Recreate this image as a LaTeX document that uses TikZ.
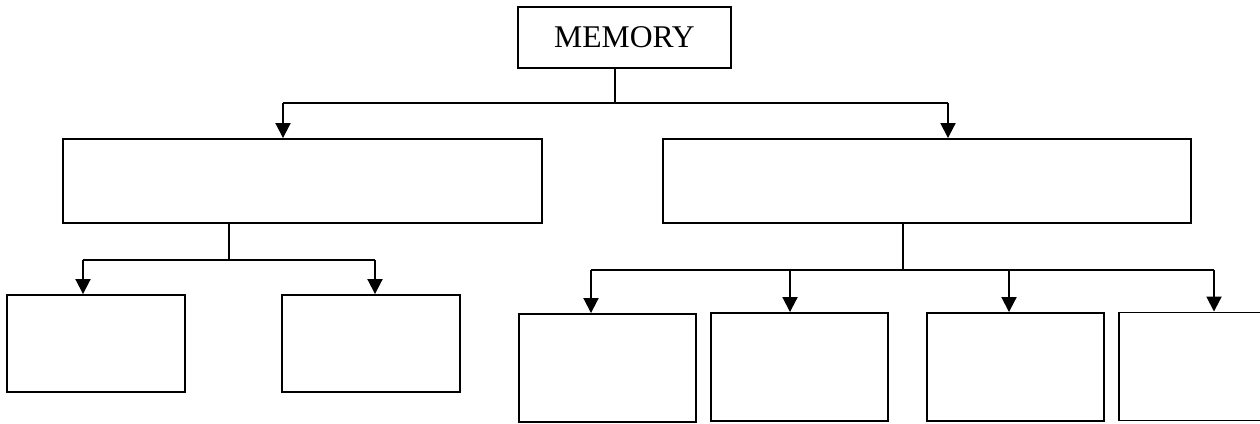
\documentclass[tikz,border=0pt]{standalone}
\usepackage{fontspec}
\setmainfont{Liberation Serif}
\usetikzlibrary{arrows.meta}

\tikzset{
  blk/.style={draw, line width=1.1pt, inner sep=0pt},
  arr/.style={line width=1.1pt, -{Triangle[width=0.3cm,length=0.3cm]}},
  ln/.style={line width=1.1pt}
}

\begin{document}
\begin{tikzpicture}[x=0.02cm,y=-0.02cm]
            \useasboundingbox (0,0) rectangle (1260,423);
            \clip (0,0) rectangle (1260,423);

            % boxes
            \node[blk, minimum width=4.26cm, minimum height=1.22cm] (mem) at (624.5,37.5){\fontsize{18}{20}\selectfont MEMORY};
            \node[blk, minimum width=9.58cm, minimum height=1.68cm] (left) at (302.5,181){};
            \node[blk, minimum width=10.56cm, minimum height=1.68cm] (right) at (927,181){};

            \node[blk, minimum width=3.56cm, minimum height=1.94cm] (left1) at (96,343.5){};
            \node[blk, minimum width=3.56cm, minimum height=1.94cm] (left2) at (371,343.5){};

            \node[blk, minimum width=3.54cm, minimum height=2.16cm] (right1) at (607.5,368){};
            \node[blk, minimum width=3.54cm, minimum height=2.16cm] (right2) at (799.5,367){};
            \node[blk, minimum width=3.54cm, minimum height=2.16cm] (right3) at (1015.5,367){};
            \node[blk, minimum width=3.54cm, minimum height=2.16cm] (right4) at (1207.5,366.5){};

            % junctions
            \coordinate (mj) at (615,103);
            \coordinate (ma) at (283,103);
            \coordinate (mb) at (948,103);
            \coordinate (lj) at (229,260);
            \coordinate (la) at (83,260);
            \coordinate (lb) at (375,260);
            \coordinate (rj) at (903,270);
            \coordinate (ra) at (591,270);
            \coordinate (rb) at (790,270);
            \coordinate (rc) at (1009,270);
            \coordinate (rd) at (1214,270);

            % connectors
            \draw[ln] (mem.south -| mj) -- (mj);
            \draw[ln] (ma) -- (mb);
            \draw[arr] (ma) -- (ma |- left.north);
            \draw[arr] (mb) -- (mb |- right.north);

            \draw[ln] (left.south -| lj) -- (lj);
            \draw[ln] (la) -- (lb);
            \draw[arr] (la) -- (la |- left1.north);
            \draw[arr] (lb) -- (lb |- left2.north);

            \draw[ln] (right.south -| rj) -- (rj);
            \draw[ln] (ra) -- (rd);
            \draw[arr] (ra) -- (ra |- right1.north);
            \draw[arr] (rb) -- (rb |- right2.north);
            \draw[arr] (rc) -- (rc |- right3.north);
            \draw[arr] (rd) -- (rd |- right4.north);

      \end{tikzpicture}
\end{document}
